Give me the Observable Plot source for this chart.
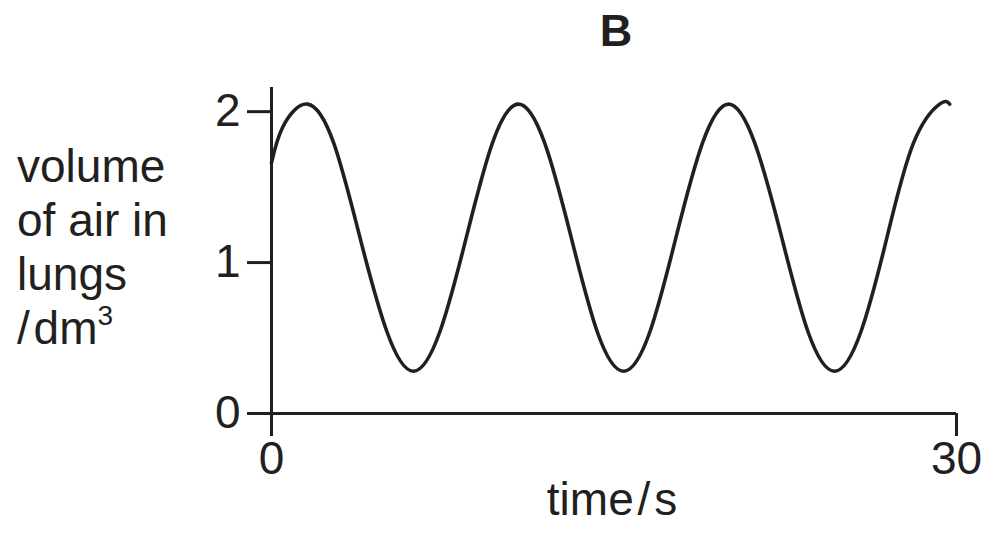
<!DOCTYPE html>
<html>
<head>
<meta charset="utf-8">
<script src="https://cdn.jsdelivr.net/npm/d3@7"></script>
<script src="https://cdn.jsdelivr.net/npm/@observablehq/plot@0.6"></script>
<style>
  html, body { margin: 0; padding: 0; background: #fff; }
  #wrap { position: relative; width: 999px; height: 540px; font-family: "Liberation Sans", Arial, Helvetica, sans-serif; color: #231f20; }
  #wrap svg { position: absolute; left: 0; top: 0; }
  .ov { position: absolute; white-space: nowrap; }
  #title { left: 0; width: 1232px; top: 5px; text-align: center; font-weight: bold; font-size: 45px; }
  #ylab { left: 17px; top: 139px; font-size: 46px; line-height: 54px; }
  #xlab { left: 0; width: 1224px; top: 472px; text-align: center; font-size: 46px; }
  sup { font-size: 28px; vertical-align: 0; position: relative; top: -19px; }
</style>
</head>
<body>
<div id="wrap">
  <div class="ov" id="title">B</div>
  <div class="ov" id="ylab">volume<br>of air in<br>lungs<br>/&#8202;dm<sup>3</sup></div>
  <div class="ov" id="xlab">time&#8202;/&#8202;s</div>
</div>
<script>
// values
const timeS = [0, 0.5, 1.58, 2.73, 3.85, 5.06, 6.22, 7.37, 8.52, 9.67, 10.82, 11.97, 13.12, 14.27, 15.42, 16.57, 17.72, 18.87, 20.02, 21.17, 22.34, 23.5, 24.66, 25.81, 26.96, 28.11, 29.26, 29.7];
const volume = [1.66, 1.9, 2.05, 1.79, 1.18, 0.54, 0.28, 0.54, 1.16, 1.79, 2.05, 1.79, 1.17, 0.54, 0.28, 0.54, 1.17, 1.79, 2.05, 1.79, 1.17, 0.54, 0.28, 0.54, 1.17, 1.79, 2.05, 2.05];
const xTicks = [0, 30];
const yTicks = [0, 1, 2];
const xDomain = [0, 30];
const yDomain = [0, 2.16];

const data = timeS.map((t, i) => ({t, v: volume[i]}));
const ink = "#231f20";

const chart = Plot.plot({
  width: 999,
  height: 540,
  marginLeft: 271,
  marginRight: 43,
  marginTop: 87,
  marginBottom: 127,
  x: {domain: xDomain},
  y: {domain: yDomain},
  style: {fontFamily: "'Liberation Sans', Arial, Helvetica, sans-serif", fontSize: "46px", color: ink, background: "transparent", overflow: "visible"},
  marks: [
    Plot.ruleX([xDomain[0]], {y1: yDomain[0], y2: yDomain[1], stroke: ink, strokeWidth: 3}),
    Plot.ruleY([yDomain[0]], {x1: xDomain[0], x2: xDomain[1], stroke: ink, strokeWidth: 3}),
    Plot.axisY({ticks: yTicks, tickFormat: "d", tickSize: 24, tickPadding: 7, strokeWidth: 3, stroke: ink, fill: ink, fontSize: 46, label: null}),
    Plot.axisX({ticks: xTicks, tickFormat: "d", tickSize: 23, tickPadding: 5, strokeWidth: 3, stroke: ink, fill: ink, fontSize: 46, label: null}),
    Plot.line(data, {x: "t", y: "v", curve: "natural", stroke: ink, strokeWidth: 3.6})
  ]
});
document.getElementById("wrap").prepend(chart);
</script>
</body>
</html>
